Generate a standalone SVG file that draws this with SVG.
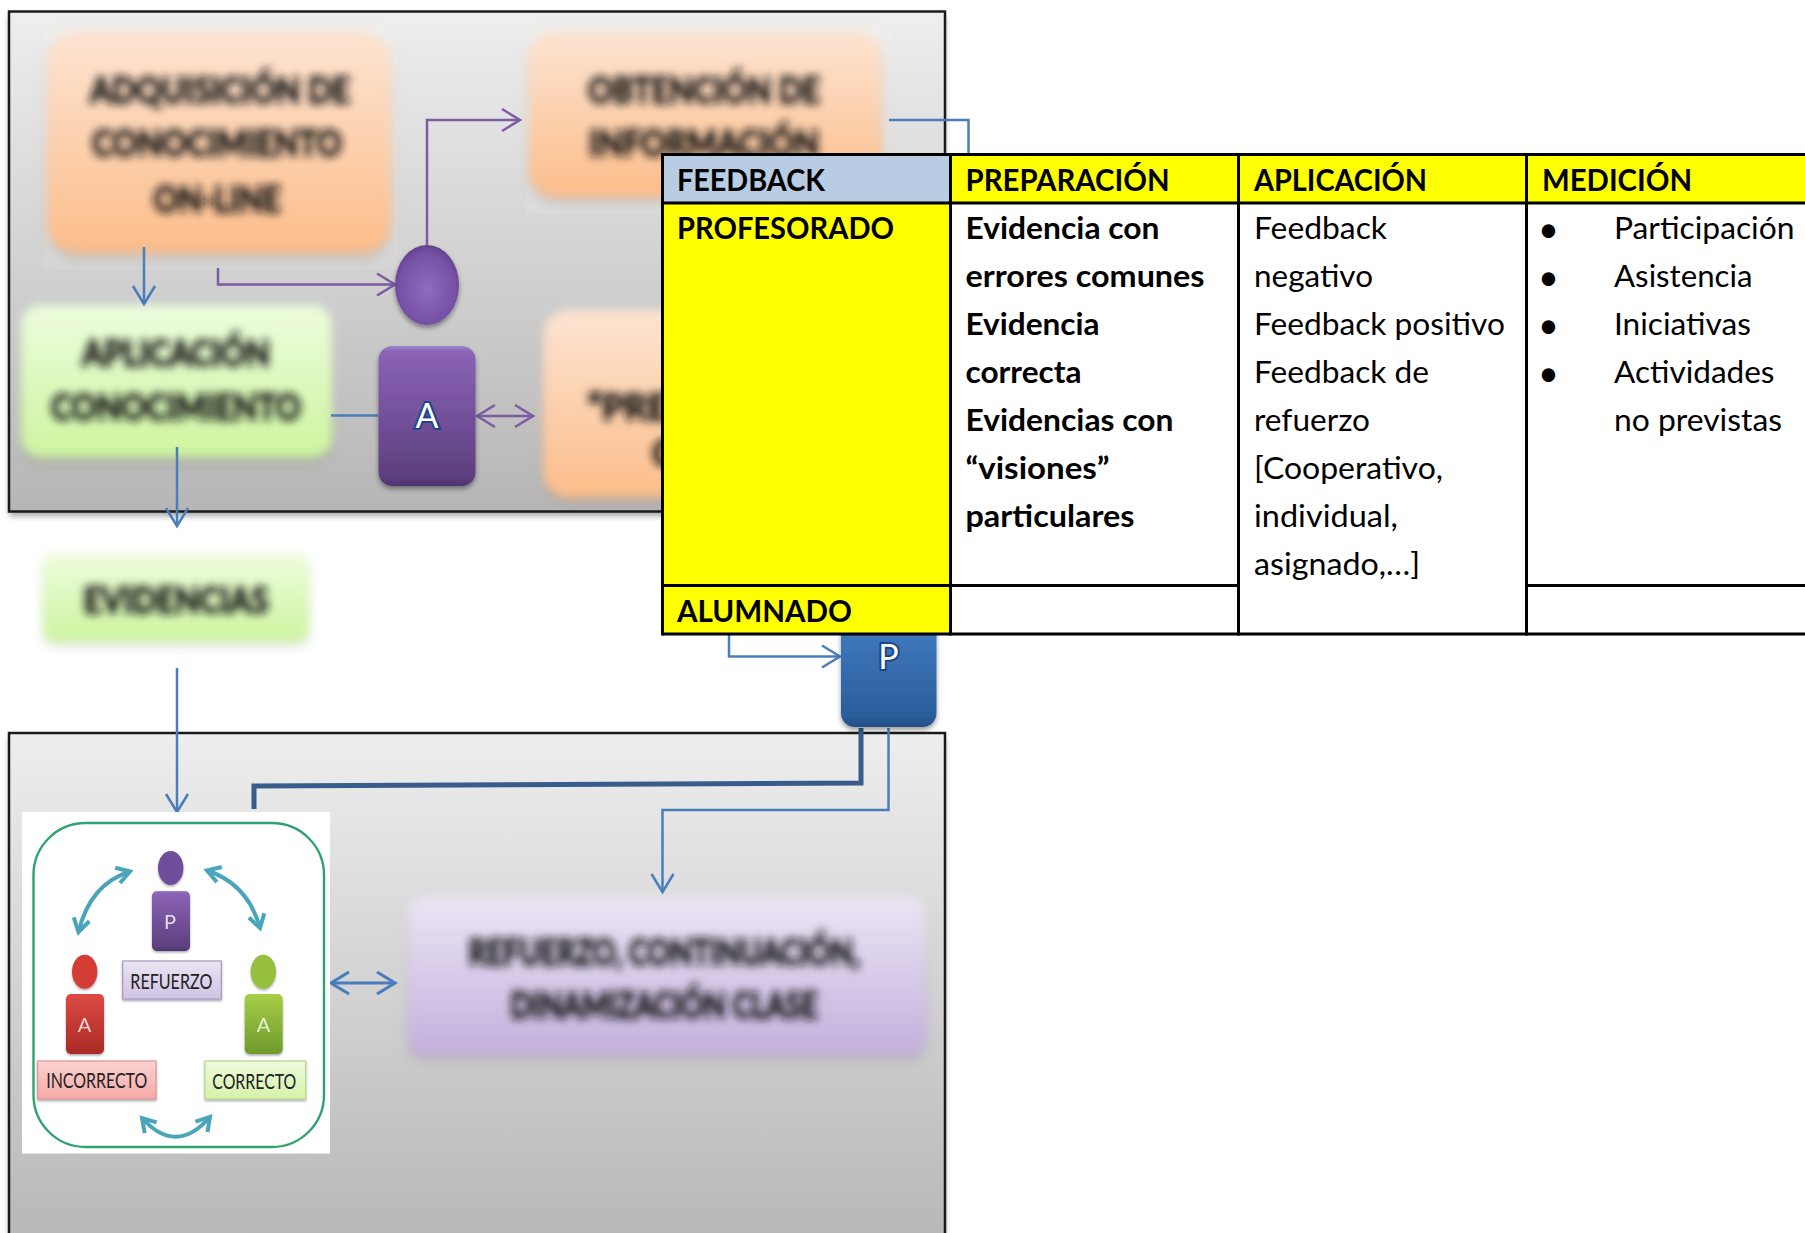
<svg xmlns="http://www.w3.org/2000/svg" width="1805" height="1233" viewBox="0 0 1805 1233">
<style>
text{font-family:"Lato","Carlito","Liberation Sans",sans-serif}
.panel{stroke:#1a1a1a;stroke-width:2.5;fill:url(#gPanel)}
.halo{fill:#fff;opacity:.1}
.blurred{font-weight:700;fill:#141414;stroke:#141414;stroke-width:1.5;font-size:36px;text-anchor:middle}
.c{fill:none;stroke-width:2.5}
.blue{stroke:#4a7ebb}
.purple{stroke:#7c5ba3}
.thick{stroke-width:3.2}
.cell{stroke:#000;stroke-width:3}
.th{font-size:30px;font-weight:700;fill:#000}
.b{font-size:31px;font-weight:700;fill:#000}
.n{font-size:31px;fill:#000}
.big{font-size:34px;fill:#fff;stroke:#1c4587;stroke-width:4;paint-order:stroke;text-anchor:middle}
.mini{font-size:20px;fill:#fff;opacity:.8;text-anchor:middle}
.lab{font-size:21px;fill:#222;text-anchor:middle}
.teal{fill:none;stroke:#4aa5bb;stroke-width:4}
</style>
<defs>
<linearGradient id="gPanel" x1="0" y1="0" x2="0" y2="1"><stop offset="0" stop-color="#eeeeee"/><stop offset="1" stop-color="#b6b6b6"/></linearGradient>
<linearGradient id="gOrange" x1="0" y1="0" x2="0" y2="1"><stop offset="0" stop-color="#fde4d2"/><stop offset="1" stop-color="#fcbd8a"/></linearGradient>
<linearGradient id="gGreen" x1="0" y1="0" x2="0" y2="1"><stop offset="0" stop-color="#edfcdd"/><stop offset="1" stop-color="#cdf59f"/></linearGradient>
<linearGradient id="gLilac" x1="0" y1="0" x2="0" y2="1"><stop offset="0" stop-color="#ece5f4"/><stop offset="1" stop-color="#c3b0dd"/></linearGradient>
<linearGradient id="gPurple" x1="0" y1="0" x2="0" y2="1"><stop offset="0" stop-color="#a084cc"/><stop offset=".04" stop-color="#8a63b6"/><stop offset=".92" stop-color="#5e4080"/><stop offset="1" stop-color="#4e3470"/></linearGradient>
<radialGradient id="gHead" cx=".5" cy=".55" r=".6"><stop offset="0" stop-color="#8f6cc0"/><stop offset=".75" stop-color="#7550a4"/><stop offset="1" stop-color="#553a7c"/></radialGradient>
<linearGradient id="gBlue" x1="0" y1="0" x2="0" y2="1"><stop offset="0" stop-color="#4a86cc"/><stop offset=".92" stop-color="#2a5e9c"/><stop offset="1" stop-color="#214d84"/></linearGradient>
<linearGradient id="gRed" x1="0" y1="0" x2="0" y2="1"><stop offset="0" stop-color="#df4a44"/><stop offset="1" stop-color="#a82a26"/></linearGradient>
<linearGradient id="gLime" x1="0" y1="0" x2="0" y2="1"><stop offset="0" stop-color="#a6ce47"/><stop offset="1" stop-color="#6f9a2c"/></linearGradient>
<linearGradient id="gLabP" x1="0" y1="0" x2="0" y2="1"><stop offset="0" stop-color="#ebe5f3"/><stop offset="1" stop-color="#cfc3e4"/></linearGradient>
<linearGradient id="gLabR" x1="0" y1="0" x2="0" y2="1"><stop offset="0" stop-color="#fbd3d2"/><stop offset="1" stop-color="#f5a9a7"/></linearGradient>
<linearGradient id="gLabG" x1="0" y1="0" x2="0" y2="1"><stop offset="0" stop-color="#eefbdc"/><stop offset="1" stop-color="#d5f2ab"/></linearGradient>
<filter id="blurBox" x="-15%" y="-15%" width="130%" height="130%"><feDropShadow dx="0" dy="4" stdDeviation="3" flood-color="#000" flood-opacity=".3"/><feGaussianBlur stdDeviation="5"/></filter>
<filter id="blurText" x="-15%" y="-30%" width="130%" height="160%"><feGaussianBlur stdDeviation="4"/></filter>
<filter id="soft" x="-5%" y="-5%" width="110%" height="112%"><feGaussianBlur stdDeviation="3"/></filter>
<filter id="shadow" x="-20%" y="-20%" width="140%" height="140%"><feDropShadow dx="0" dy="3" stdDeviation="2.5" flood-color="#000" flood-opacity=".4"/></filter>
<filter id="fuzz" x="-20%" y="-20%" width="140%" height="140%"><feDropShadow dx="0" dy="1.500" stdDeviation="1.200" flood-color="#000" flood-opacity=".35"/><feGaussianBlur stdDeviation=".5"/></filter>
<marker id="aBlue" markerUnits="userSpaceOnUse" markerWidth="26" markerHeight="28" refX="21" refY="14" orient="auto-start-reverse"><path d="M3,3 L21,14 L3,25" fill="none" stroke="#4a7ebb" stroke-width="2.500"/></marker>
<marker id="aBlueB" markerUnits="userSpaceOnUse" markerWidth="26" markerHeight="28" refX="21" refY="14" orient="auto-start-reverse"><path d="M3,3 L21,14 L3,25" fill="none" stroke="#4a7ebb" stroke-width="3.200"/></marker>
<marker id="aPurple" markerUnits="userSpaceOnUse" markerWidth="26" markerHeight="28" refX="21" refY="14" orient="auto-start-reverse"><path d="M3,3 L21,14 L3,25" fill="none" stroke="#7c5ba3" stroke-width="2.500"/></marker>
<marker id="aTeal" markerUnits="userSpaceOnUse" markerWidth="20" markerHeight="20" refX="15" refY="10" orient="auto-start-reverse"><path d="M2,2 L15,10 L2,18" fill="none" stroke="#4aa5bb" stroke-width="4"/></marker>
</defs>

<rect width="1805" height="1233" fill="#fff"/>

<rect x="9" y="16" width="936" height="500" fill="#000" opacity=".35" filter="url(#soft)"/>
<rect id="panel-top" class="panel" x="9" y="11.500" width="936" height="500"/>
<rect x="9" y="738" width="936" height="500" fill="#000" opacity=".3" filter="url(#soft)"/>
<rect id="panel-bottom" class="panel" x="9" y="733" width="936" height="520"/>

<g id="node-adquisicion">
<rect class="halo" x="44" y="26" width="354" height="243"/>
<rect x="47" y="31" width="344" height="222" rx="30" fill="url(#gOrange)" filter="url(#blurBox)"/>
<g class="blurred" filter="url(#blurText)"><text x="220" y="103" textLength="260" lengthAdjust="spacingAndGlyphs">ADQUISICIÓN DE</text><text x="217" y="156" textLength="250" lengthAdjust="spacingAndGlyphs">CONOCIMIENTO</text><text x="217" y="212" textLength="127" lengthAdjust="spacingAndGlyphs">ON-LINE</text></g>
</g>
<g id="node-obtencion">
<rect class="halo" x="526" y="26" width="365" height="187"/>
<rect x="529" y="31" width="353" height="166" rx="26" fill="url(#gOrange)" filter="url(#blurBox)"/>
<g class="blurred" filter="url(#blurText)"><text x="704" y="103" textLength="232" lengthAdjust="spacingAndGlyphs">OBTENCIÓN DE</text><text x="704" y="156" textLength="230" lengthAdjust="spacingAndGlyphs">INFORMACIÓN</text></g>
</g>
<g id="node-practica">
<rect x="543" y="310" width="350" height="188" rx="26" fill="url(#gOrange)" filter="url(#blurBox)"/>
<g class="blurred" filter="url(#blurText)" style="text-anchor:start"><text x="588" y="420">“PRE</text><text x="652" y="466">C</text></g>
</g>
<g id="node-aplicacion">
<rect x="21" y="305" width="311" height="152" rx="20" fill="url(#gGreen)" filter="url(#blurBox)"/>
<g class="blurred" filter="url(#blurText)"><text x="176" y="366" textLength="188" lengthAdjust="spacingAndGlyphs">APLICACIÓN</text><text x="176" y="420" textLength="250" lengthAdjust="spacingAndGlyphs">CONOCIMIENTO</text></g>
</g>
<g id="node-evidencias">
<rect x="43" y="554" width="266" height="87" rx="12" fill="url(#gGreen)" filter="url(#blurBox)"/>
<text class="blurred" x="176" y="613" filter="url(#blurText)" textLength="185" lengthAdjust="spacingAndGlyphs">EVIDENCIAS</text>
</g>
<g id="node-refuerzo-clase">
<rect x="408" y="897" width="518" height="158" rx="16" fill="url(#gLilac)" filter="url(#blurBox)"/>
<g class="blurred" filter="url(#blurText)"><text x="664" y="965" textLength="391" lengthAdjust="spacingAndGlyphs">REFUERZO, CONTINUACIÓN,</text><text x="664" y="1018" textLength="307" lengthAdjust="spacingAndGlyphs">DINAMIZACIÓN CLASE</text></g>
</g>

<g id="connectors">
<path class="c blue" d="M144,247V304" marker-end="url(#aBlue)"/>
<path class="c purple" d="M218,268V284.500H395" marker-end="url(#aPurple)"/>
<path class="c purple" d="M427,245V120H520" marker-end="url(#aPurple)"/>
<path class="c blue" d="M331,415.500H378"/>
<path class="c purple" d="M477,416H533" marker-start="url(#aPurple)" marker-end="url(#aPurple)"/>
<path class="c blue" d="M177,447V526" marker-end="url(#aBlue)"/>
<path class="c blue" d="M889,120H968.500V156"/>
<path class="c blue" d="M729,630V656.500H840" marker-end="url(#aBlue)"/>
<path class="c blue" d="M177,668V812" marker-end="url(#aBlue)"/>
<path d="M861,728V783L254,786V809" fill="none" stroke="#385d8a" stroke-width="5"/>
<path class="c blue" d="M888.500,728V810H662.500V892" marker-end="url(#aBlue)"/>
<path class="c blue thick" d="M331,983H395" marker-start="url(#aBlueB)" marker-end="url(#aBlueB)"/>
</g>

<g id="node-persona-circle"><ellipse cx="427" cy="285" rx="32" ry="40" fill="url(#gHead)" filter="url(#shadow)"/></g>
<g id="node-alumno-a"><rect x="378.500" y="346" width="97" height="140" rx="14" fill="url(#gPurple)" filter="url(#shadow)"/><text class="big" x="427" y="428">A</text></g>
<g id="node-profesor-p"><rect x="841" y="587" width="95.500" height="140" rx="14" fill="url(#gBlue)" filter="url(#shadow)"/><text class="big" x="888.500" y="669">P</text></g>

<g id="node-feedback-image">
<rect x="22" y="812" width="308" height="341.500" fill="#fff"/>
<rect x="33.500" y="823" width="290.500" height="324" rx="52" fill="none" stroke="#2fa36f" stroke-width="2.400"/>
<g id="person-p" filter="url(#fuzz)"><ellipse cx="170.700" cy="868" rx="12.700" ry="17" fill="#6f4d9b"/><rect x="152" y="891" width="38" height="60" rx="5" fill="url(#gPurple)"/><text class="mini" x="170" y="929">P</text></g>
<g id="person-incorrecto" filter="url(#fuzz)"><ellipse cx="84.700" cy="971.700" rx="12.700" ry="17" fill="#d33c36"/><rect x="66" y="994" width="38" height="60" rx="5" fill="url(#gRed)"/><text class="mini" x="84.500" y="1032">A</text></g>
<g id="person-correcto" filter="url(#fuzz)"><ellipse cx="263.300" cy="971.700" rx="12.700" ry="17" fill="#96bf3e"/><rect x="244.700" y="994" width="38" height="60" rx="5" fill="url(#gLime)"/><text class="mini" x="263.500" y="1032">A</text></g>
<g id="label-refuerzo"><rect x="122.700" y="961" width="98.600" height="38" fill="url(#gLabP)" stroke="#a59cba" stroke-width="1.200" filter="url(#fuzz)"/><text class="lab" x="171.300" y="989" textLength="82" lengthAdjust="spacingAndGlyphs">REFUERZO</text></g>
<g id="label-incorrecto"><rect x="37.700" y="1061" width="118.300" height="38" fill="url(#gLabR)" stroke="#d99694" stroke-width="1.200" filter="url(#fuzz)"/><text class="lab" x="96.700" y="1088" textLength="101" lengthAdjust="spacingAndGlyphs">INCORRECTO</text></g>
<g id="label-correcto"><rect x="205" y="1061" width="100.700" height="38" fill="url(#gLabG)" stroke="#b9d68f" stroke-width="1.200" filter="url(#fuzz)"/><text class="lab" x="254.300" y="1089" textLength="84" lengthAdjust="spacingAndGlyphs">CORRECTO</text></g>
<path class="teal" d="M78.500,932Q90,884 130,871.500" marker-start="url(#aTeal)" marker-end="url(#aTeal)"/>
<path class="teal" d="M207,870.500Q248,884 260,928" marker-start="url(#aTeal)" marker-end="url(#aTeal)"/>
<path class="teal" d="M142,1118Q176,1156 210,1117" marker-start="url(#aTeal)" marker-end="url(#aTeal)"/>
</g>

<g id="feedback-table">
<rect x="662.500" y="154.500" width="288" height="48.500" fill="#b8cce4"/>
<rect x="662.500" y="203" width="288" height="431" fill="#ffff00"/>
<rect x="950.500" y="154.500" width="860" height="48.500" fill="#ffff00"/>
<rect x="950.500" y="203" width="860" height="431" fill="#fff"/>
<g class="cell" fill="none">
<path d="M662.500,154.500H1810M662.500,203H1810M662.500,585.500H1238.500M1526.500,585.500H1810M662.500,634H1810"/>
<path d="M662.500,153V635.500M950.500,153V635.500M1238.500,153V635.500M1526.500,153V635.500"/>
</g>
<text class="th" x="677" y="191" textLength="148" lengthAdjust="spacingAndGlyphs">FEEDBACK</text>
<text class="th" x="965.500" y="191" textLength="204" lengthAdjust="spacingAndGlyphs">PREPARACIÓN</text>
<text class="th" x="1254" y="191" textLength="173" lengthAdjust="spacingAndGlyphs">APLICACIÓN</text>
<text class="th" x="1542" y="191" textLength="150" lengthAdjust="spacingAndGlyphs">MEDICIÓN</text>
<text class="th" x="677" y="239" textLength="217" lengthAdjust="spacingAndGlyphs">PROFESORADO</text>
<text class="th" x="677" y="622" textLength="175" lengthAdjust="spacingAndGlyphs">ALUMNADO</text>
<g class="b">
<text x="965.500" y="239" textLength="194" lengthAdjust="spacingAndGlyphs">Evidencia con</text>
<text x="965.500" y="287" textLength="239" lengthAdjust="spacingAndGlyphs">errores comunes</text>
<text x="965.500" y="335" textLength="134" lengthAdjust="spacingAndGlyphs">Evidencia</text>
<text x="965.500" y="383" textLength="116" lengthAdjust="spacingAndGlyphs">correcta</text>
<text x="965.500" y="430.500" textLength="208" lengthAdjust="spacingAndGlyphs">Evidencias con</text>
<text x="965.500" y="478.500" textLength="144" lengthAdjust="spacingAndGlyphs">“visiones”</text>
<text x="965.500" y="526.500" textLength="169" lengthAdjust="spacingAndGlyphs">particulares</text>
</g>
<g class="n">
<text x="1254" y="239" textLength="133" lengthAdjust="spacingAndGlyphs">Feedback</text>
<text x="1254" y="287" textLength="119" lengthAdjust="spacingAndGlyphs">negativo</text>
<text x="1254" y="335" textLength="251" lengthAdjust="spacingAndGlyphs">Feedback positivo</text>
<text x="1254" y="383" textLength="175" lengthAdjust="spacingAndGlyphs">Feedback de</text>
<text x="1254" y="430.500" textLength="116" lengthAdjust="spacingAndGlyphs">refuerzo</text>
<text x="1254" y="478.500" textLength="189" lengthAdjust="spacingAndGlyphs">[Cooperativo,</text>
<text x="1254" y="526.500" textLength="144" lengthAdjust="spacingAndGlyphs">individual,</text>
<text x="1254" y="574.500" textLength="166" lengthAdjust="spacingAndGlyphs">asignado,…]</text>
<text x="1614" y="239" textLength="180.500" lengthAdjust="spacingAndGlyphs">Participación</text>
<text x="1614" y="287" textLength="138.500" lengthAdjust="spacingAndGlyphs">Asistencia</text>
<text x="1614" y="335" textLength="137" lengthAdjust="spacingAndGlyphs">Iniciativas</text>
<text x="1614" y="383" textLength="160.500" lengthAdjust="spacingAndGlyphs">Actividades</text>
<text x="1614" y="430.500" textLength="168" lengthAdjust="spacingAndGlyphs">no previstas</text>
</g>
<g style="font-size:36px;font-family:'Liberation Sans',sans-serif" fill="#000">
<text x="1538" y="242">•</text><text x="1538" y="290">•</text><text x="1538" y="338">•</text><text x="1538" y="386">•</text>
</g>
</g>
</svg>
